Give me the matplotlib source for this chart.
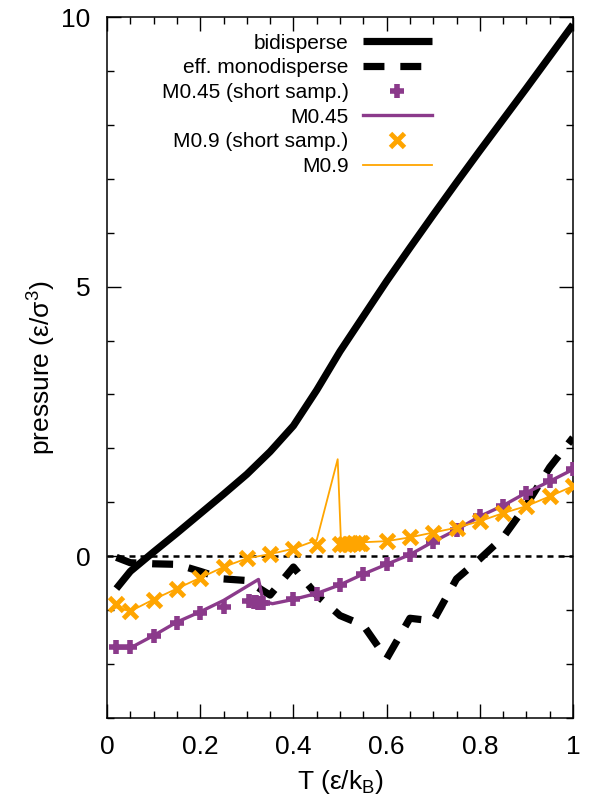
import numpy as np
import matplotlib
matplotlib.use('Agg')
import matplotlib.pyplot as plt

plt.rcParams['font.family'] = ['Liberation Sans', 'DejaVu Sans']
plt.rcParams['mathtext.fontset'] = 'custom'
plt.rcParams['mathtext.rm'] = 'Liberation Sans'
plt.rcParams['mathtext.it'] = 'Liberation Sans:italic'

# temperature grid used by the two reference curves
T_ref = [0.02, 0.05, 0.1, 0.15, 0.2, 0.25, 0.3, 0.35, 0.4, 0.45, 0.5,
         0.55, 0.6, 0.65, 0.7, 0.75, 0.8, 0.85, 0.9, 0.95, 1.0]
p_bidisperse = [-0.6, -0.28, 0.08, 0.43, 0.79, 1.15, 1.52, 1.94, 2.42, 3.08, 3.8,
                4.45, 5.1, 5.72, 6.33, 6.93, 7.52, 8.1, 8.68, 9.27, 9.86]
p_monodisperse = [-0.02, -0.12, -0.14, -0.15, -0.28, -0.42, -0.45, -0.72, -0.2, -0.72, -1.1,
                  -1.28, -1.9, -1.15, -1.2, -0.42, -0.05, 0.35, 0.95, 1.65, 2.2]

# M0.45, short sampling (markers)
T_m045s = [0.02, 0.05, 0.1, 0.15, 0.2, 0.25, 0.305, 0.315, 0.32, 0.325, 0.33, 0.335,
           0.4, 0.45, 0.5, 0.55, 0.6, 0.65, 0.7, 0.75, 0.8, 0.85, 0.9, 0.95, 1.0]
p_m045s = [-1.69, -1.69, -1.47, -1.24, -1.06, -0.94, -0.83, -0.84, -0.85, -0.86, -0.86, -0.87,
           -0.80, -0.70, -0.53, -0.33, -0.15, 0.03, 0.27, 0.49, 0.74, 0.94, 1.18, 1.39, 1.61]

# M0.45 (line)
T_m045 = [0.02, 0.05, 0.1, 0.15, 0.2, 0.25, 0.325, 0.335, 0.355, 0.4, 0.45, 0.5,
          0.55, 0.6, 0.65, 0.7, 0.75, 0.8, 0.85, 0.9, 0.95, 1.0]
p_m045 = [-1.70, -1.70, -1.47, -1.22, -1.03, -0.82, -0.43, -0.83, -0.88, -0.80, -0.69, -0.53,
          -0.33, -0.15, 0.03, 0.27, 0.49, 0.74, 0.94, 1.18, 1.39, 1.61]

# M0.9, short sampling (markers)
T_m09s = [0.02, 0.05, 0.1, 0.15, 0.2, 0.25, 0.3, 0.35, 0.4, 0.45,
          0.5, 0.51, 0.52, 0.53, 0.54, 0.545,
          0.6, 0.65, 0.7, 0.75, 0.8, 0.85, 0.9, 0.95, 1.0]
p_m09s = [-0.88, -1.01, -0.81, -0.60, -0.40, -0.20, -0.04, 0.04, 0.14, 0.20,
          0.22, 0.23, 0.23, 0.24, 0.24, 0.24,
          0.28, 0.35, 0.44, 0.53, 0.65, 0.80, 0.93, 1.11, 1.30]

# M0.9 (line)
T_m09 = [0.02, 0.05, 0.1, 0.15, 0.2, 0.25, 0.3, 0.35, 0.4, 0.45, 0.495, 0.502,
         0.55, 0.6, 0.65, 0.7, 0.75, 0.8, 0.85, 0.9, 0.95, 1.0]
p_m09 = [-0.95, -1.02, -0.80, -0.60, -0.40, -0.20, -0.04, 0.04, 0.14, 0.30, 1.80, 0.28,
         0.26, 0.28, 0.35, 0.44, 0.53, 0.65, 0.80, 0.93, 1.11, 1.30]

purple = '#8b3a8b'
orange = '#ffa500'

fig = plt.figure(figsize=(5.9, 8.02), dpi=100)
ax = fig.add_axes([0.1814, 0.1047, 0.7898, 0.8741])

ax.axhline(0, color='black', lw=1.8, dashes=(2.4, 2.0), zorder=1)

ax.plot(T_ref, p_bidisperse, color='black', lw=5.2, solid_capstyle='butt',
        label='bidisperse', zorder=3)
ax.plot(T_ref, p_monodisperse, color='black', lw=5.2, dashes=(2.9, 2.2),
        label='eff. monodisperse', zorder=3)
ax.plot(T_m045s, p_m045s, ls='none', marker='+', ms=10, mew=4, color=purple,
        label='M0.45 (short samp.)', zorder=4)
ax.plot(T_m045, p_m045, color=purple, lw=2.4, label='M0.45', zorder=4)
ax.plot(T_m09s, p_m09s, ls='none', marker='x', ms=9.5, mew=3.5, color=orange,
        label='M0.9 (short samp.)', zorder=4)
ax.plot(T_m09, p_m09, color=orange, lw=1.3, label='M0.9', zorder=4)

ax.set_xlim(0, 1)
ax.set_ylim(-3, 10)
ax.set_xticks(np.arange(0, 1.01, 0.2))
ax.set_xticklabels(['0', '0.2', '0.4', '0.6', '0.8', '1'])
ax.set_xticks(np.arange(0, 1.001, 0.05), minor=True)
ax.set_yticks([0, 5, 10])
ax.set_yticks(np.arange(-3, 10.1, 1), minor=True)
ax.tick_params(which='both', direction='in', top=True, right=True,
               labelsize=19, width=1.0)
ax.tick_params(which='major', length=10, pad=12)
ax.tick_params(which='minor', length=5)
for s in ax.spines.values():
    s.set_linewidth(1.1)

ax.set_xlabel('T (ε/k$_\\mathrm{B}$)', fontsize=19, labelpad=7)
ax.set_ylabel('pressure (ε/σ$^3$)', fontsize=19, labelpad=2)

leg = ax.legend(loc='upper right', bbox_to_anchor=(0.715, 0.988), frameon=False,
                markerfirst=False, fontsize=15, handlelength=3.3,
                handletextpad=0.7, labelspacing=0.27, borderaxespad=0)

fig.savefig('out.png', dpi=100)
